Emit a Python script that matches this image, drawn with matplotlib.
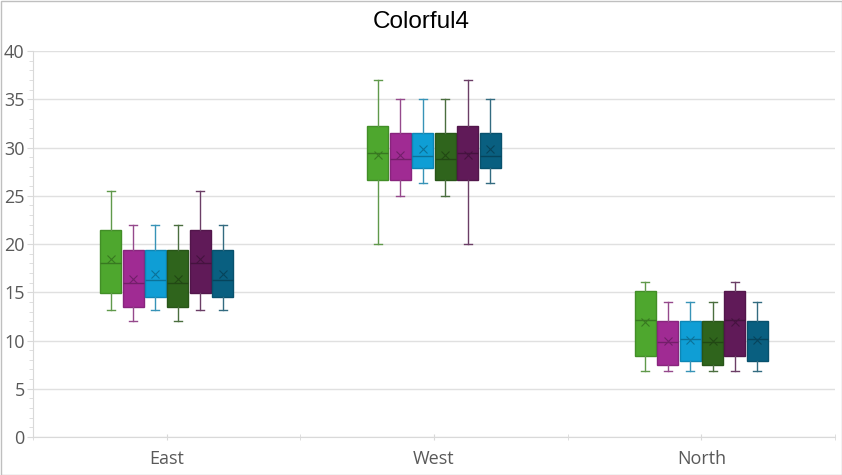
import matplotlib
matplotlib.use("Agg")
import matplotlib.pyplot as plt
import matplotlib.colors as mcolors
import numpy as np

categories = ["East", "West", "North"]
series_colors = ["#4EA72E", "#A02B93", "#0F9ED5", "#2F641C", "#601A58", "#095F80"]

# per series: [East, West, North]
whislo = [
    [13.2, 20.0, 6.85],
    [12.0, 25.0, 6.85],
    [13.2, 26.3, 6.85],
    [12.0, 25.0, 6.85],
    [13.2, 20.0, 6.85],
    [13.2, 26.3, 6.85],
]
q1 = [
    [14.9, 26.6, 8.35],
    [13.45, 26.6, 7.5],
    [14.55, 27.9, 7.9],
    [13.45, 26.6, 7.5],
    [14.9, 26.6, 8.35],
    [14.55, 27.9, 7.9],
]
med = [
    [18.0, 29.4, 12.1],
    [16.0, 28.85, 9.8],
    [16.3, 29.15, 10.2],
    [16.0, 28.85, 9.8],
    [18.0, 29.4, 12.1],
    [16.3, 29.15, 10.2],
]
q3 = [
    [21.5, 32.2, 15.1],
    [19.35, 31.55, 12.0],
    [19.35, 31.55, 12.0],
    [19.35, 31.55, 12.0],
    [21.5, 32.2, 15.1],
    [19.35, 31.55, 12.0],
]
whishi = [
    [25.5, 37.0, 16.1],
    [22.0, 35.0, 13.95],
    [22.0, 35.0, 13.95],
    [22.0, 35.0, 13.95],
    [25.5, 37.0, 16.1],
    [22.0, 35.0, 13.95],
]
means = [
    [18.4, 29.25, 11.9],
    [16.4, 29.25, 9.9],
    [16.9, 29.8, 10.1],
    [16.4, 29.25, 9.9],
    [18.4, 29.25, 11.9],
    [16.9, 29.8, 10.1],
]
yticks = [0, 5, 10, 15, 20, 25, 30, 35, 40]


def shade(c, f):
    r, g, b = mcolors.to_rgb(c)
    return (r * f, g * f, b * f)


def mix(c, other, t):
    a = np.array(mcolors.to_rgb(c))
    o = np.array(mcolors.to_rgb(other))
    return tuple(a * (1 - t) + o * t)


fig = plt.figure(figsize=(8.42, 4.75), dpi=100)
fig.patch.set_facecolor("white")
ax = fig.add_axes([33 / 842, 38 / 475, 802 / 842, 386 / 475])

n = len(series_colors)
step = 0.0838
width = 0.0786
x = np.arange(len(categories))
for j, c in enumerate(series_colors):
    stats = []
    for i in range(len(categories)):
        stats.append(dict(whislo=whislo[j][i], q1=q1[j][i], med=med[j][i],
                          q3=q3[j][i], whishi=whishi[j][i], mean=means[j][i],
                          fliers=[]))
    pos = x + (j - (n - 1) / 2) * step
    wc = mix(c, "#808080", 0.35)
    ax.bxp(stats, positions=pos, widths=width, patch_artist=True,
           showmeans=True, showfliers=False, manage_ticks=False,
           boxprops=dict(facecolor=c, edgecolor=shade(c, 0.85), linewidth=1.0),
           medianprops=dict(color=shade(c, 0.72), linewidth=1.0),
           whiskerprops=dict(color=wc, linewidth=1.0),
           capprops=dict(color=wc, linewidth=1.0),
           capwidths=width * 0.38,
           meanprops=dict(marker="x", markeredgecolor=shade(c, 0.72),
                          markersize=6, markeredgewidth=0.8),
           zorder=3)

ax.set_xlim(-0.5, 2.5)
ax.set_ylim(0, 40)
ax.set_yticks(yticks)
ax.set_yticks(np.arange(0, 41, 1), minor=True)
ax.yaxis.grid(True, which="major", color="#E0E0E0", linewidth=1.0, zorder=0)
ax.set_axisbelow(True)

ax.set_xticks(x)
ax.set_xticklabels(categories)
ax.set_xticks(np.arange(-0.5, 2.6, 1.0), minor=True)

for s in ["top", "right"]:
    ax.spines[s].set_visible(False)
ax.spines["left"].set_color("#D9D9D9")
ax.spines["bottom"].set_color("#D9D9D9")

ax.tick_params(axis="y", which="major", length=4, color="#D9D9D9", labelsize=13,
               labelcolor="#595959", pad=2)
ax.tick_params(axis="y", which="minor", length=3, color="#D9D9D9")
ax.tick_params(axis="x", which="major", length=4, direction="inout", color="#D9D9D9",
               labelsize=13, labelcolor="#595959", pad=7)
ax.tick_params(axis="x", which="minor", length=4, direction="inout", color="#D9D9D9")
for lab in ax.get_xticklabels() + ax.get_yticklabels():
    lab.set_fontfamily("Open Sans")

fig.text(0.5, 1 - 22 / 475, "Colorful4", ha="center", va="center",
         fontsize=17.5, color="black", family="Liberation Sans")

border = plt.Rectangle((0.5 / 842, 0.5 / 475), 1 - 1 / 842, 1 - 1 / 475,
                       transform=fig.transFigure, fill=False,
                       edgecolor="#BFBFBF", linewidth=1.0)
fig.patches.append(border)

fig.savefig("out.png", dpi=100, facecolor="white")
